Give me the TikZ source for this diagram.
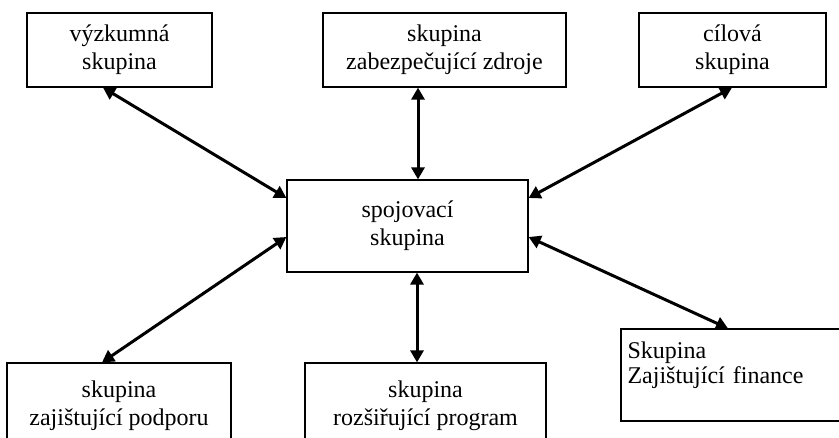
\documentclass[tikz,border=0pt]{standalone}
\usepackage{fontspec}
\setmainfont{Liberation Serif}
\usetikzlibrary{arrows.meta}
\tikzstyle{group}=[draw,rectangle,line width=0.6pt,align=center,inner sep=0pt,font=\fontsize{12}{14}\selectfont]
\tikzstyle{link}=[line width=1.5pt,{Triangle[length=6pt,width=6.5pt]}-{Triangle[length=6pt,width=6.5pt]}]

\begin{document}
\begin{tikzpicture}[x=0.5pt,y=-0.5pt]
  \useasboundingbox (0,0) rectangle (839,438);
  \clip (0,0) rectangle (839,438);
  \foreach \place/\name/\bw/\bh/\txt in {{(119.5,50)/vyzkum/185/74/{výzkumná\\skupina}},
                            {(444.5,50)/zdroje/243/74/{skupina\\zabezpečující zdroje}},
                            {(732.5,50)/cilova/187/74/{cílová\\skupina}},
                            {(407.5,226)/spoj/241/92/{spojovací\\skupina}},
                            {(119,406)/podpora/224/86/{skupina\\zajištující podporu}},
                            {(425.5,406)/program/241/86/{skupina\\rozšiřující program}}}
    \node[group,minimum width=\bw*0.5pt,minimum height=\bh*0.5pt] (\name) at \place {\txt};
  \node[group,minimum width=119.5pt,minimum height=46pt,align=left,text width=113pt,
        font=\fontsize{12}{12.5}\selectfont] (finance) at (740.5,375)
        {Skupina\\Zajištující finance\\~};
  \draw[link] (vyzkum.south -| 103,0) -- (spoj.west |- 0,198);
  \draw[link] (zdroje.south -| 418,0) -- (spoj.north -| 418,0);
  \draw[link] (cilova.south -| 732,0) -- (spoj.east |- 0,198);
  \draw[link] (spoj.west |- 0,237) -- (podpora.north -| 102,0);
  \draw[link] (spoj.south -| 417,0) -- (program.north -| 417,0);
  \draw[link] (spoj.east |- 0,237) -- (finance.north -| 728,0);
\end{tikzpicture}
\end{document}
